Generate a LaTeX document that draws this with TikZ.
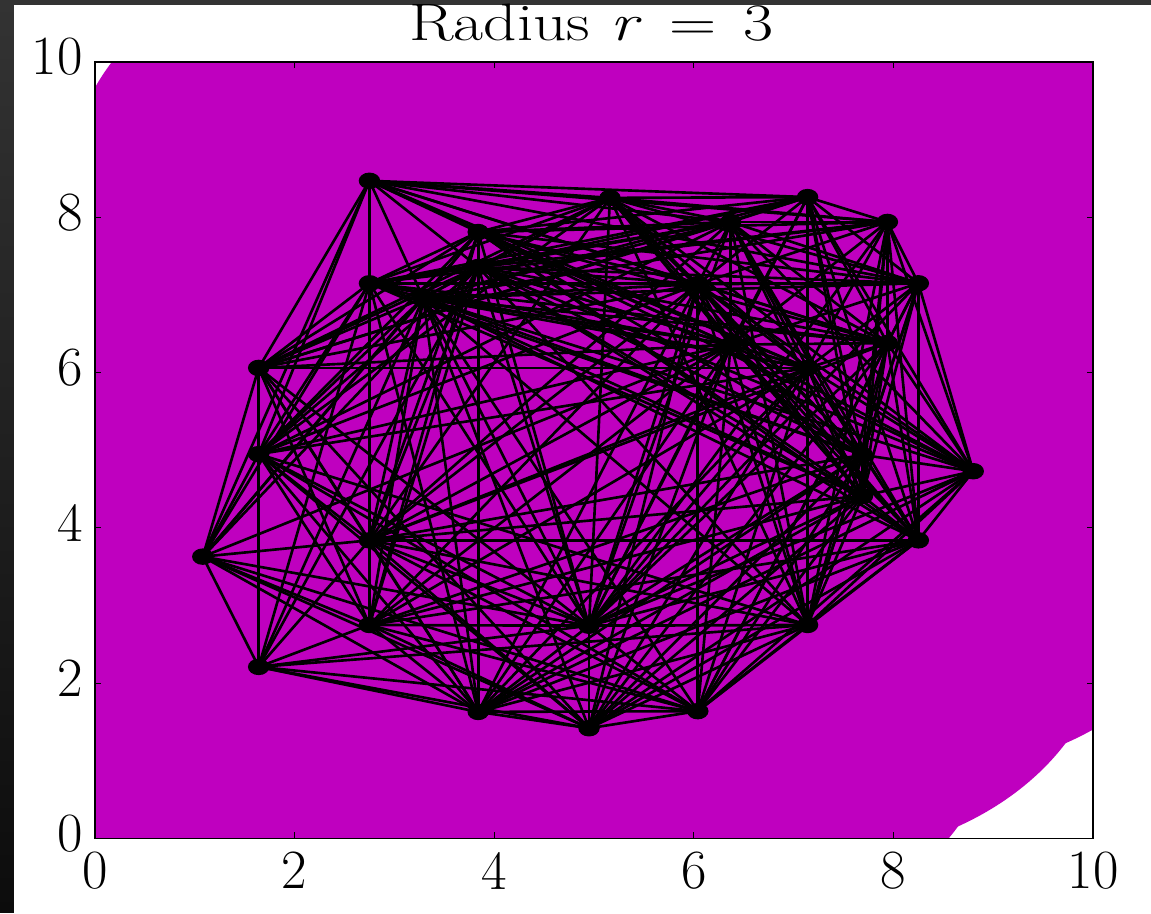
\documentclass[tikz,border=0pt]{standalone}
\usetikzlibrary{shapes.geometric}
\definecolor{plotmag}{rgb}{0.75,0,0.75}
\definecolor{stripgray}{HTML}{333333}
\definecolor{stripdark}{HTML}{0C0C0C}
\begin{document}
\begin{tikzpicture}[x=1.996cm,y=1.553cm,
  edge/.style={black,line width=1.5pt},
  dot/.style={ellipse,fill=black,inner sep=0pt,minimum width=0.43cm,minimum height=0.33cm},
  ticklab/.style={inner sep=0pt,font=\fontsize{31.5}{32}\selectfont},
  tickmark/.style={black,line width=0.6pt},
  frame/.style={black,line width=1pt}]
\useasboundingbox (-1.9cm,-1.49cm) rectangle (21.12cm,16.77cm);
\fill[white] (-1.9cm,-1.49cm) rectangle (21.12cm,16.77cm);
\shade[top color=stripgray,bottom color=stripdark] (-1.9cm,-1.49cm) rectangle (-1.62cm,16.77cm);
\fill[stripgray] (-1.9cm,16.67cm) rectangle (21.12cm,16.77cm);
\def\xs{{2.75,5.16,7.14,7.94,6.37,3.84,3.84,2.75,3.29,6.04,8.25,7.94,6.37,7.14,1.64,1.64,7.69,7.69,8.80,8.25,2.75,1.08,2.75,4.95,7.14,1.64,3.84,6.04,4.95}}
\def\ys{{8.47,8.25,8.26,7.94,7.94,7.81,7.36,7.15,6.96,7.14,7.15,6.38,6.36,6.06,6.06,4.95,4.94,4.41,4.73,3.84,3.84,3.63,2.75,2.74,2.75,2.21,1.63,1.64,1.42}}
\foreach \k in {0,...,28} {
  \pgfmathsetmacro\px{\xs[\k]}
  \pgfmathsetmacro\py{\ys[\k]}
  \coordinate (c\k) at (\px,\py);
}
\begin{scope}
  \clip (0,0) rectangle (10,10);
  \foreach \k in {0,...,28} \fill[plotmag] (c\k) circle[radius=3];
\end{scope}
\foreach \i in {0,...,27} {
  \pgfmathtruncatemacro\s{\i+1}
  \foreach \j in {\s,...,28} {
    \pgfmathsetmacro\d{veclen(\xs[\j]-\xs[\i],\ys[\j]-\ys[\i])}
    \ifdim\d pt<6pt \draw[edge] (c\i) -- (c\j); \fi
  }
}
\foreach \k in {0,...,28} \node[dot] (p\k) at (c\k) {};
\draw[frame] (0,0) rectangle (10,10);
\foreach \t in {0,2,...,10} {
  \draw[tickmark] (\t,0) -- ++(0,0.12cm);
  \draw[tickmark] (\t,10) -- ++(0,-0.12cm);
  \draw[tickmark] (0,\t) -- ++(0.12cm,0);
  \draw[tickmark] (10,\t) -- ++(-0.12cm,0);
  \node[ticklab,anchor=north] (xl\t) at ([yshift=-0.27cm]\t,0) {\t};
  \node[ticklab,anchor=east] (yl\t) at ([xshift=-0.24cm,yshift=0.1cm]0,\t) {\t};
}
\node[anchor=base,inner sep=0pt,font=\fontsize{30}{32}\selectfont] (title) at (9.93cm,15.95cm)
  {\scalebox{1.24}[1]{Radius \textit{r}\hspace{0.42em}=\hspace{0.42em}3}};
\end{tikzpicture}
\end{document}
